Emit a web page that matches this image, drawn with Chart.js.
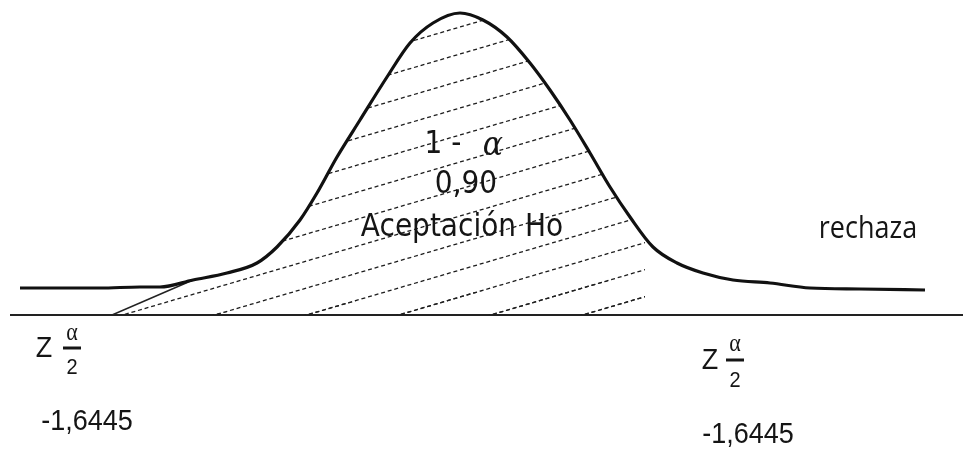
<!DOCTYPE html>
<html>
<head>
<meta charset="utf-8">
<script src="https://cdn.jsdelivr.net/npm/chart.js@4.4.0/dist/chart.umd.min.js"></script>
<style>
    body { margin: 0; background: #fff; }
    canvas { display: block; }
</style>
</head>
<body>
<canvas id="myChart" width="963" height="450"></canvas>
<script>
// curve: position along the axis and height above it
const curveX = [20, 60, 100, 140, 160, 193, 227, 257, 277, 300, 317, 337, 360, 387, 410, 433, 460,
    483, 507, 530, 550, 570, 590, 610, 630, 653, 677, 703, 733, 770, 810, 860, 925];
const curveY = [27, 27, 27, 28, 28, 35, 42, 52, 68, 95, 122, 158, 195, 238, 272, 292, 302,
    295, 278, 252, 225, 195, 162, 128, 98, 68, 52, 42, 35, 32, 27, 26, 25];

// hatched acceptance zone: where it leaves the curve and where it lands on the axis
const acceptCurve = [168, 720];
const acceptAxis = [112, 645];

// horizontal axis
const axisX = [10, 963];

function hatch(ctx) {
    const w = 92, h = 27;
    const tile = document.createElement('canvas');
    tile.width = w;
    tile.height = h;
    const c = tile.getContext('2d');
    const len = Math.sqrt(w * w + h * h);
    c.strokeStyle = '#1e1e1e';
    c.lineWidth = 1.3;
    c.setLineDash([4, len / 14 - 4]);
    [-h, 0, h].forEach((dy) => {
        c.beginPath();
        c.moveTo(0, h + dy);
        c.lineTo(w, dy);
        c.stroke();
    });
    return ctx.createPattern(tile, 'repeat');
}

const canvas = document.getElementById('myChart');
const ctx2d = canvas.getContext('2d');

const curve = curveX.map((x, i) => ({ x: x, y: curveY[i] }));
const zone = [{ x: acceptAxis[0], y: 0 }]
    .concat(curve.filter((p) => p.x >= acceptCurve[0] && p.x <= acceptCurve[1]))
    .concat([{ x: acceptAxis[1], y: 0 }]);

const labels = [
    { text: '1 -', x: 443, y: 170, font: '28px "DejaVu Sans"' },
    { text: 'α', x: 493, y: 169, font: 'italic 30px "DejaVu Serif"' },
    { text: '0,90', x: 466, y: 130, font: '28px "DejaVu Sans"' },
    { text: 'Aceptación Ho', x: 462, y: 87, font: '28px "DejaVu Sans"' },
    { text: 'rechaza', x: 868, y: 86, font: '27px "Open Sans"' },
    { text: 'Z', x: 44, y: -34, font: '27px "Liberation Sans"' },
    { text: 'α', x: 72, y: -19, font: '22px "Liberation Serif"' },
    { text: '2', x: 72, y: -53, font: '20px "Liberation Sans"' },
    { text: '-1,6445', x: 87, y: -107, font: '27px "Liberation Sans"' },
    { text: 'Z', x: 710, y: -46, font: '27px "Liberation Sans"' },
    { text: 'α', x: 735, y: -30, font: '22px "Liberation Serif"' },
    { text: '2', x: 735, y: -66, font: '20px "Liberation Sans"' },
    { text: '-1,6445', x: 748, y: -120, font: '27px "Liberation Sans"' },
];
const bars = [{ x: 72, y: -33 }, { x: 735, y: -45 }];

const textPlugin = {
    id: 'texts',
    afterDraw(chart) {
        const { ctx, scales: { x, y } } = chart;
        ctx.save();
        ctx.fillStyle = '#151515';
        ctx.textAlign = 'center';
        ctx.textBaseline = 'middle';
        labels.forEach((l) => {
            ctx.save();
            ctx.translate(x.getPixelForValue(l.x), y.getPixelForValue(l.y));
            ctx.scale(1, 1.12); // the scan is a bit stretched upright
            ctx.font = l.font;
            ctx.fillText(l.text, 0, 0);
            ctx.restore();
        });
        ctx.strokeStyle = '#151515';
        ctx.lineWidth = 3;
        bars.forEach((b) => {
            const px = x.getPixelForValue(b.x), py = y.getPixelForValue(b.y);
            ctx.beginPath();
            ctx.moveTo(px - 9, py);
            ctx.lineTo(px + 9, py);
            ctx.stroke();
        });
        ctx.restore();
    }
};

const config = {
    type: 'line',
    data: {
        datasets: [{
            data: curve,
            borderColor: '#111',
            borderWidth: 3.2,
            cubicInterpolationMode: 'monotone',
            pointRadius: 0,
            fill: false
        }, {
            data: zone,
            borderColor: 'transparent',
            borderWidth: 1.4,
            tension: 0,
            pointRadius: 0,
            backgroundColor: hatch(ctx2d),
            fill: 'origin',
            segment: {
                borderColor: (c) => c.p0DataIndex === 0 ? '#222' : 'transparent'
            }
        }, {
            data: axisX.map((x) => ({ x: x, y: 0 })),
            borderColor: '#222',
            borderWidth: 1.8,
            pointRadius: 0,
            fill: false
        }]
    },
    options: {
        responsive: false,
        animation: false,
        layout: { padding: 0 },
        plugins: {
            legend: { display: false },
            tooltip: { enabled: false }
        },
        scales: {
            x: { type: 'linear', min: 0, max: 963, display: false },
            y: { min: -135, max: 315, display: false }
        }
    },
    plugins: [textPlugin]
};

const myChart = new Chart(canvas, config);
</script>
</body>
</html>
